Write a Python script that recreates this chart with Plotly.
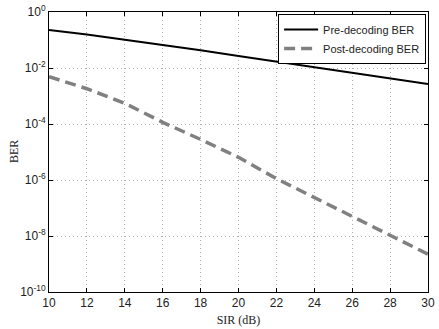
import plotly.graph_objects as go

sir = [10, 12, 14, 16, 18, 20, 22, 24, 26, 28, 30]
pre_log = [-0.64, -0.8, -0.99, -1.17, -1.37, -1.57, -1.77, -1.97, -2.17, -2.37, -2.57]
post_log = [-2.31, -2.74, -3.26, -3.94, -4.55, -5.19, -5.95, -6.63, -7.31, -8.0, -8.65]
pre_ber = [10 ** v for v in pre_log]
post_ber = [10 ** v for v in post_log]

xticks = [10, 12, 14, 16, 18, 20, 22, 24, 26, 28, 30]
yexp = [0, -2, -4, -6, -8, -10]
yticks = [10.0 ** e for e in yexp]
ytext = ["10<sup>%d</sup>" % e for e in yexp]

fig = go.Figure()
fig.add_trace(go.Scatter(x=sir, y=pre_ber, mode="lines", name="Pre-decoding BER",
                         line=dict(color="black", width=2)))
fig.add_trace(go.Scatter(x=sir, y=post_ber, mode="lines", name="Post-decoding BER",
                         line=dict(color="#808080", width=3.5, dash="11px,6px")))

axis_common = dict(showline=True, linecolor="black", linewidth=1, mirror="ticks",
                   ticks="inside", ticklen=4, tickcolor="black", automargin=False,
                   showgrid=True, gridcolor="#b0b0b0", griddash="1px,3px", gridwidth=1,
                   zeroline=False, tickfont=dict(family="Arial", size=12, color="#222"))

serif = dict(family="Times New Roman, Liberation Serif", size=12, color="#222")

fig.update_layout(
    width=439, height=329,
    margin=dict(l=49, r=11, t=12, b=37),
    paper_bgcolor="white", plot_bgcolor="white",
    xaxis=dict(range=[10, 30], tickvals=xticks,
               title=dict(text="SIR (dB)", font=serif, standoff=6),
               **axis_common),
    yaxis=dict(type="log", range=[-10, 0], tickvals=yticks, ticktext=ytext,
               **axis_common),
    legend=dict(x=0.995, y=0.993, xanchor="right", yanchor="top",
                bgcolor="white", bordercolor="black", borderwidth=1,
                font=dict(family="Arial", size=11, color="#222"),
                tracegroupgap=0, itemwidth=34),
    showlegend=True,
    annotations=[dict(text="BER", textangle=-90, font=serif, showarrow=False,
                      xref="paper", yref="paper", x=0, y=0.5,
                      xanchor="center", yanchor="middle", xshift=-35)],
)

fig.write_html("out.html", post_script="document.body.style.margin='0';",
               config={"displayModeBar": False})
